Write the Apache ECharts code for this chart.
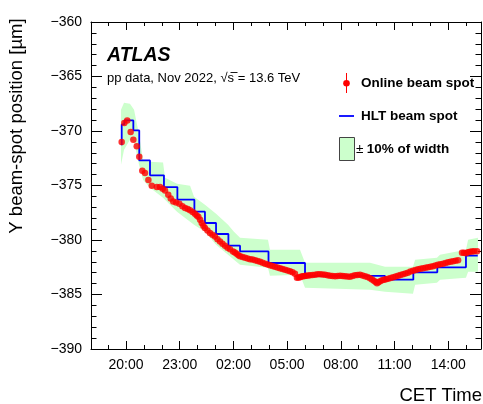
<!DOCTYPE html>
<html>
<head>
<meta charset="utf-8">
<script src="https://cdn.jsdelivr.net/npm/echarts@6/dist/echarts.min.js"></script>
<style>
html,body{margin:0;padding:0;background:#fff;}
#chart{width:483px;height:404px;}
</style>
</head>
<body>
<div id="chart"></div>
<script>
// ---- data (x = hours from midnight of first day; 26 = 02:00 next day) ----
var xTickHours = [20, 23, 26, 29, 32, 35, 38];
var xTickLabels = ['20:00', '23:00', '02:00', '05:00', '08:00', '11:00', '14:00'];
var xMinorHours = [19, 21, 22, 24, 25, 27, 28, 30, 31, 33, 34, 36, 37, 39];

// Online beam spot (red points)
var onlineTime = [19.76, 19.905, 20.07, 20.26, 20.41, 20.60, 20.74, 20.91, 21.06, 21.25, 21.44, 21.72, 21.90, 22.05, 22.18, 22.36, 22.50, 22.64, 22.80, 22.98,
  23.15, 23.30, 23.45, 23.58, 23.72, 23.85, 23.95, 24.04, 24.14, 24.23, 24.32, 24.41, 24.55, 24.69, 24.83, 24.97, 25.11, 25.25, 25.39, 25.53,
  25.67, 25.81, 25.98, 26.08, 26.18, 26.28, 26.37, 26.51, 26.65, 26.79, 26.93, 27.07, 27.21, 27.35, 27.49, 27.63, 27.77, 27.91, 28.04, 28.18,
  28.32, 28.46, 28.60, 28.74, 28.88, 29.02, 29.16, 29.30, 29.44, 29.55, 29.64, 29.72, 29.80, 29.89, 29.98, 30.06, 30.17, 30.28, 30.42, 30.56,
  30.70, 30.84, 30.98, 31.12, 31.26, 31.40, 31.54, 31.68, 31.82, 31.96, 32.10, 32.23, 32.37, 32.51, 32.65, 32.79, 32.93, 33.07, 33.21, 33.35,
  33.49, 33.63, 33.74, 33.85, 33.94, 34.02, 34.10, 34.19, 34.30, 34.41, 34.52, 34.64, 34.78, 34.92, 35.06, 35.20, 35.33, 35.47, 35.61, 35.75,
  35.89, 36.03, 36.17, 36.31, 36.45, 36.59, 36.73, 36.87, 37.01, 37.15, 37.28, 37.42, 37.56, 37.71, 37.85, 37.99, 38.13, 38.27, 38.41, 38.55,
  38.77, 38.88, 38.99, 39.10, 39.22, 39.33, 39.44, 39.61];
var onlineY = [-371.01, -369.27, -369.03, -370.09, -370.80, -371.41, -372.36, -373.64, -373.85, -374.50, -375.02, -375.14, -375.14, -375.30, -375.45, -375.84, -376.20, -376.46, -376.55, -376.67,
  -376.90, -377.06, -377.15, -377.27, -377.42, -377.59, -377.75, -377.86, -378.15, -378.44, -378.70, -378.90, -379.12, -379.36, -379.52, -379.67, -379.92, -380.13, -380.35, -380.52,
  -380.70, -380.84, -381.05, -381.15, -381.26, -381.40, -381.49, -381.55, -381.62, -381.70, -381.76, -381.80, -381.85, -381.92, -381.99, -382.08, -382.17, -382.25, -382.31, -382.38,
  -382.45, -382.52, -382.59, -382.65, -382.72, -382.80, -382.86, -382.97, -383.09, -383.46, -383.44, -383.41, -383.36, -383.32, -383.30, -383.28, -383.25, -383.23, -383.20, -383.18,
  -383.15, -383.14, -383.16, -383.18, -383.23, -383.28, -383.30, -383.32, -383.30, -383.28, -383.30, -383.32, -383.35, -383.37, -383.30, -383.23, -383.20, -383.18, -383.25, -383.32,
  -383.40, -383.50, -383.62, -383.73, -383.85, -383.96, -383.88, -383.78, -383.70, -383.64, -383.60, -383.55, -383.48, -383.41, -383.35, -383.28, -383.21, -383.14, -383.07, -383.00,
  -382.90, -382.81, -382.75, -382.68, -382.63, -382.59, -382.55, -382.50, -382.45, -382.40, -382.33, -382.27, -382.22, -382.17, -382.10, -382.04, -382.00, -381.95, -381.90, -381.85,
  -381.16, -381.18, -381.21, -381.12, -381.07, -381.05, -381.03, -381.03];

// HLT beam spot (blue histogram: bin edges and levels)
var hltTime = [19.76, 19.76, 19.905, 20.41, 20.74, 21.34, 22.12, 22.87, 23.82, 24.41, 25.03, 25.72, 26.37, 27.96, 30.00, 34.47, 36.05, 37.39, 38.99, 39.65];
var hltY = [-371.30, -369.40, -369.03, -369.95, -372.70, -374.07, -375.14, -376.30, -377.40, -378.44, -379.45, -380.52, -381.05, -382.11, -383.30, -383.64, -382.97, -382.51, -381.44, -381.44];

// +-10% of width band
var bandTime = [19.72, 19.89, 20.22, 20.45, 20.73, 20.95, 21.34, 22.07, 22.18, 22.85, 23.58, 23.80, 24.41, 25.03, 25.70, 26.03, 26.37, 27.93, 28.04, 29.72,
  30.00, 33.63, 34.47, 36.03, 36.15, 37.37, 37.54, 38.99, 39.11, 39.66];
var bandHigh = [-368.05, -367.40, -367.50, -368.05, -370.34, -372.63, -372.81, -372.90, -374.28, -374.83, -375.02, -376.03, -376.76, -377.59, -378.60, -379.24, -379.79, -379.97, -380.89, -380.89,
  -382.08, -382.08, -382.45, -382.45, -381.81, -381.62, -381.35, -380.89, -379.97, -379.79];
var bandLow = [-373.09, -371.72, -370.80, -370.98, -373.09, -374.47, -375.20, -376.12, -376.30, -377.40, -378.32, -378.60, -379.24, -380.43, -381.35, -381.81, -382.26, -382.54, -383.27, -383.18,
  -384.37, -384.56, -384.74, -384.93, -384.10, -383.92, -383.64, -383.46, -382.91, -382.91];

var yTicks = [-390, -385, -380, -375, -370, -365, -360];

// ---- chart ----
var FONT = '"Liberation Sans", Arial, Helvetica, sans-serif';
var chart = echarts.init(document.getElementById('chart'), null, {renderer: 'canvas'});

function fmtY(v) { return String(v).replace('-', '\u2212'); }
function fmtX(v) {
  var i = xTickHours.indexOf(Math.round(v));
  return i >= 0 ? xTickLabels[i] : '';
}

var xMin = 18.045, xMax = 39.83;
var lineStyle = {color: '#000', width: 1};

function xAxisDef(pos, customTicks, len, showLabel, showLine) {
  return {
    type: 'value', position: pos, min: xMin, max: xMax,
    axisLine: {show: showLine, onZero: false, lineStyle: lineStyle},
    axisTick: {show: true, inside: true, length: len, customValues: customTicks, lineStyle: lineStyle},
    axisLabel: {show: showLabel, customValues: customTicks, formatter: fmtX, color: '#000',
      fontFamily: FONT, fontSize: 14, margin: 9},
    splitLine: {show: false}
  };
}
function yAxisDef(pos, showLabel) {
  return {
    type: 'value', position: pos, min: -390, max: -360, interval: 5,
    axisLine: {show: true, onZero: false, lineStyle: lineStyle},
    axisTick: {show: true, inside: true, length: 11, lineStyle: lineStyle},
    minorTick: {show: true, splitNumber: 5, length: 5.5, lineStyle: lineStyle},
    axisLabel: {show: showLabel, formatter: fmtY, color: '#000', fontFamily: FONT, fontSize: 14, margin: 9},
    splitLine: {show: false}, minorSplitLine: {show: false}
  };
}

var option = {
  animation: false,
  backgroundColor: '#fff',
  grid: {left: 91, right: 2, top: 22, bottom: 55, containLabel: false},
  xAxis: [
    xAxisDef('bottom', xTickHours, 8, true, true),
    xAxisDef('bottom', xMinorHours, 4, false, false),
    xAxisDef('top', xTickHours, 8, false, true),
    xAxisDef('top', xMinorHours, 4, false, false)
  ],
  yAxis: [yAxisDef('left', true), yAxisDef('right', false)],
  series: [
    {
      name: '\u00b1 10% of width', type: 'custom', xAxisIndex: 0, yAxisIndex: 0, silent: true, z: 1,
      data: bandTime.map(function (t, i) { return [t, bandLow[i], bandHigh[i]]; }),
      encode: {x: 0, y: [1, 2]},
      renderItem: function (params, api) {
        if (params.dataIndex !== 0) return null;
        var pts = [], i;
        for (i = 0; i < bandTime.length; i++) pts.push(api.coord([bandTime[i], bandHigh[i]]));
        for (i = bandTime.length - 1; i >= 0; i--) pts.push(api.coord([bandTime[i], bandLow[i]]));
        return {type: 'polygon', shape: {points: pts}, style: {fill: '#ccffcc', stroke: null}};
      }
    },
    {
      name: 'HLT beam spot', type: 'line', step: 'end', xAxisIndex: 0, yAxisIndex: 0, z: 2,
      showSymbol: false, symbol: 'none',
      lineStyle: {color: '#0000ff', width: 1.8},
      data: hltTime.map(function (t, i) { return [t, hltY[i]]; })
    },
    {
      name: 'Online beam spot', type: 'scatter', xAxisIndex: 0, yAxisIndex: 0, z: 3,
      symbol: 'circle', symbolSize: 6.5,
      itemStyle: {color: '#ff0000'},
      data: onlineTime.map(function (t, i) { return [t, onlineY[i]]; })
    }
  ],
  graphic: [
    {type: 'text', x: 17, y: 126, rotation: Math.PI / 2,
      style: {text: 'Y beam-spot position [\u00b5m]', font: '18.5px ' + FONT, fill: '#000', align: 'center', verticalAlign: 'middle'}},
    {type: 'text', x: 482, y: 396,
      style: {text: 'CET Time', font: '18.5px ' + FONT, fill: '#000', align: 'right', verticalAlign: 'middle'}},
    {type: 'text', x: 107, y: 56,
      style: {text: 'ATLAS', font: 'italic bold 19.5px ' + FONT, fill: '#000', align: 'left', verticalAlign: 'middle'}},
    {type: 'text', x: 107, y: 78.5,
      style: {text: 'pp data, Nov 2022, \u221as = 13.6 TeV', font: '13px ' + FONT, fill: '#000', align: 'left', verticalAlign: 'middle'}},
    {type: 'line', shape: {x1: 230.5, y1: 72.5, x2: 237.5, y2: 72.5}, style: {stroke: '#000', lineWidth: 0.9}},
    // legend
    {type: 'line', shape: {x1: 346.5, y1: 73, x2: 346.5, y2: 93}, style: {stroke: '#ff0000', lineWidth: 1}},
    {type: 'circle', shape: {cx: 346.5, cy: 83.3, r: 3.3}, style: {fill: '#ff0000'}},
    {type: 'text', x: 361, y: 83.5,
      style: {text: 'Online beam spot', font: 'bold 13.5px ' + FONT, fill: '#000', align: 'left', verticalAlign: 'middle'}},
    {type: 'line', shape: {x1: 339, y1: 116, x2: 354, y2: 116}, style: {stroke: '#0000ff', lineWidth: 1.8}},
    {type: 'text', x: 361, y: 116,
      style: {text: 'HLT beam spot', font: 'bold 13.5px ' + FONT, fill: '#000', align: 'left', verticalAlign: 'middle'}},
    {type: 'rect', shape: {x: 339.5, y: 137.5, width: 15, height: 23}, style: {fill: '#ccffcc', stroke: '#444', lineWidth: 1}},
    {type: 'text', x: 356, y: 149,
      style: {text: '{a|\u00b1} {b|10% of width}', fill: '#000', align: 'left', verticalAlign: 'middle',
        rich: {a: {font: '13.5px ' + FONT}, b: {font: 'bold 13.5px ' + FONT}}}}
  ]
};
chart.setOption(option);
</script>
</body>
</html>
